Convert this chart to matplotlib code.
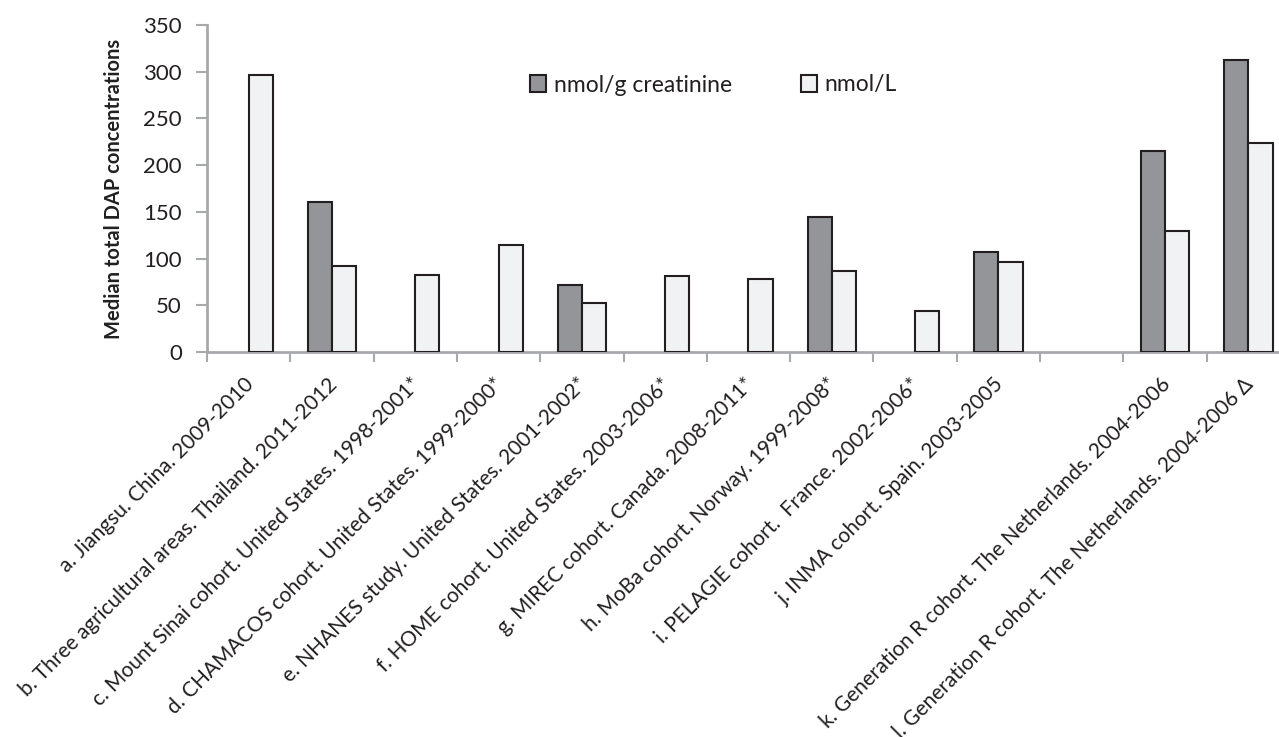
import numpy as np
import matplotlib
matplotlib.use("Agg")
import matplotlib.pyplot as plt
from matplotlib.ticker import MultipleLocator, FixedLocator
from matplotlib.transforms import ScaledTranslation

plt.rcParams['font.family'] = ['Lato', 'DejaVu Sans']

labels = ["a. Jiangsu. China. 2009-2010",
          "b. Three agricultural areas. Thailand. 2011-2012",
          "c. Mount Sinai cohort. United States. 1998-2001*",
          "d. CHAMACOS cohort. United States. 1999-2000*",
          "e. NHANES study. United States. 2001-2002*",
          "f. HOME cohort. United States. 2003-2006*",
          "g. MIREC cohort. Canada. 2008-2011*",
          "h. MoBa cohort. Norway. 1999-2008*",
          "i. PELAGIE cohort.  France. 2002-2006*",
          "j. INMA cohort. Spain. 2003-2005",
          "",
          "k. Generation R cohort. The Netherlands. 2004-2006",
          "l. Generation R cohort. The Netherlands. 2004-2006 \u0394"]

# None = no bar
creatinine = [None, 161, None, None, 72, None, None, 145, None, 107, None, 215, 313]
per_litre = [296, 92, 82, 115, 52, 81, 78, 87, 44, 96, None, 129, 224]

fig = plt.figure(figsize=(12.79, 7.37), dpi=100)
ax1 = fig.add_axes([207/1279, 385/737, 1083/1279, 327/737])

w = 0.29
x = np.arange(len(labels))
xc = [i for i, v in zip(x, creatinine) if v is not None]
yc = [v for v in creatinine if v is not None]
xl = [i for i, v in zip(x, per_litre) if v is not None]
yl = [v for v in per_litre if v is not None]

ax1.bar(np.array(xc) - w/2, yc, width=w, color="#939598", edgecolor="#231f20", lw=1.5,
        label="nmol/g creatinine", zorder=3)
ax1.bar(np.array(xl) + w/2, yl, width=w, color="#f1f2f3", edgecolor="#231f20", lw=1.5,
        label="nmol/L", zorder=3)

ax1.set_xlim(-0.5, len(labels) - 0.5)
ax1.set_ylim(0, 350)
ax1.yaxis.set_major_locator(MultipleLocator(50))
ax1.xaxis.set_major_locator(FixedLocator(np.arange(-0.5, len(labels), 1.0)))
ax1.xaxis.set_minor_locator(FixedLocator(x))
ax1.set_xticklabels([])
ax1.set_xticklabels(labels, minor=True, rotation=45, ha='right', va='top',
                    rotation_mode='anchor', fontsize=15, color="#231f20")
ax1.tick_params(axis='x', which='major', length=7, width=1.5, color="#a7a9ac", direction='out')
ax1.tick_params(axis='x', which='minor', length=0, pad=16)
ax1.tick_params(axis='y', length=8, width=1.5, color="#a7a9ac", labelsize=16,
                labelcolor="#231f20", pad=10)

# nudge the slanted labels a little to the left
shift = ScaledTranslation(-5/100, 0, fig.dpi_scale_trans)
for t in ax1.xaxis.get_minorticklabels():
    t.set_transform(t.get_transform() + shift)

for s in ['top', 'right']:
    ax1.spines[s].set_visible(False)
for s in ['left', 'bottom']:
    ax1.spines[s].set_color("#a7a9ac")
    ax1.spines[s].set_linewidth(2)

ax1.set_ylabel("Median total DAP concentrations", fontsize=14.5, fontweight='bold',
               color="#231f20", labelpad=14)

fig.legend(loc='center left', bbox_to_anchor=(509/1279, 1 - 85/737), ncol=2, frameon=False,
           fontsize=16.5, handlelength=0.7, handleheight=0.7, handletextpad=0.35,
           columnspacing=3.0, labelcolor="#231f20")

fig.savefig("out.png", dpi=100)
